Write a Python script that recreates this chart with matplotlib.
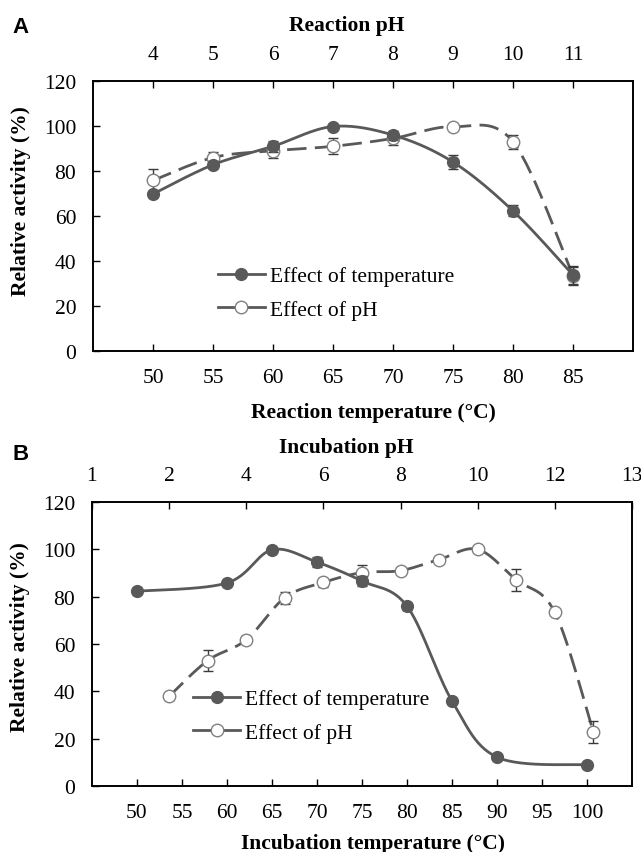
import numpy as np
import matplotlib
matplotlib.use("Agg")
from matplotlib import pyplot as plt
from matplotlib.lines import Line2D

plt.rcParams["font.family"] = ["Liberation Serif", "DejaVu Serif"]

GRIGIO = "#595959"
GRIGIO_CHIARO = "#808080"
GRIGIO_ERR = "#3a3a3a"
FONT = 15.5

# Pannello A: attivita in funzione di temperatura e pH di reazione
temp_a = [50, 55, 60, 65, 70, 75, 80, 85]
att_temp_a = [69.8, 82.8, 91.0, 99.8, 96.0, 84.0, 62.3, 33.8]
err_temp_a = [1.5, 1.5, 2.5, 0.5, 2.0, 3.0, 2.5, 4.0]
ph_a = [4, 5, 6, 7, 8, 9, 10, 11]
att_ph_a = [75.8, 86.0, 89.0, 91.0, 94.5, 99.7, 93.0, 33.5]
err_ph_a = [5.0, 2.5, 3.0, 3.5, 3.0, 0.5, 3.0, 4.0]

# Pannello B: attivita residua dopo incubazione
temp_b = [50, 60, 65, 70, 75, 80, 85, 90, 100]
att_temp_b = [82.3, 85.8, 99.8, 94.6, 86.6, 76.0, 36.0, 12.2, 8.9]
err_temp_b = [0.5, 0.5, 0.5, 2.0, 2.0, 1.5, 0.5, 1.0, 0.5]
ph_b = [2, 3, 4, 5, 6, 7, 8, 9, 10, 11, 12, 13]
att_ph_b = [37.9, 53.0, 61.8, 79.6, 86.0, 90.2, 91.0, 95.7, 100.0, 87.1, 73.4, 22.8]
err_ph_b = [1.5, 4.5, 1.5, 2.5, 2.0, 3.0, 1.0, 1.0, 0.5, 4.5, 1.0, 4.5]
tick_ph_b = [0, 2, 4, 6, 8, 10, 12, 14]
etichette_ph_b = ["1", "2", "4", "6", "8", "10", "12", "13"]


# Curva morbida stile Excel (Catmull-Rom) passante per i punti
def curva_morbida(x, y, passi=30):
    p = np.column_stack([x, y]).astype(float)
    p_est = np.vstack([p[0], p, p[-1]])
    t = np.linspace(0, 1, passi)[:, None]
    tratti = []
    for i in range(len(p) - 1):
        p0, p1, p2, p3 = p_est[i], p_est[i + 1], p_est[i + 2], p_est[i + 3]
        c1 = p1 + (p2 - p0) / 6
        c2 = p2 - (p3 - p1) / 6
        b = ((1 - t) ** 3) * p1 + 3 * ((1 - t) ** 2) * t * c1 + 3 * (1 - t) * t ** 2 * c2 + t ** 3 * p2
        tratti.append(b if i == 0 else b[1:])
    curva = np.vstack(tratti)
    return curva[:, 0], curva[:, 1]


def stile_asse(ax):
    ax.tick_params(direction="in", length=5, width=1, labelsize=FONT, pad=12)
    for s in ax.spines.values():
        s.set_linewidth(1.2)
        s.set_color("black")


def disegna_serie(ax, x, y, err, aperto, tratteggio):
    xs, ys = curva_morbida(x, y)
    if tratteggio:
        ax.plot(xs, ys, color=GRIGIO, lw=2, dashes=(7, 3), zorder=2)
    else:
        ax.plot(xs, ys, color=GRIGIO, lw=2, zorder=2)
    ax.errorbar(x, y, yerr=err, fmt="none", ecolor=GRIGIO_ERR, elinewidth=1, capsize=3.5,
                capthick=1, zorder=3)
    if aperto:
        ax.plot(x, y, "o", ms=9, mfc="white", mec=GRIGIO_CHIARO, mew=1, ls="none", zorder=4)
    else:
        ax.plot(x, y, "o", ms=8.5, mfc=GRIGIO, mec=GRIGIO, ls="none", zorder=4)


def pannello(fig, rect, temp, att_t, err_t, ph, att_p, err_p, xlim_t, xlim_p,
             tick_t, tick_p, etichette_p, xlabel, toplabel, lettera, pos_lettera,
             pos_leg, pos_xlab, pos_toplab, pos_ylab):
    ax = fig.add_axes(rect)
    ax2 = ax.twiny()
    disegna_serie(ax2, ph, att_p, err_p, True, True)
    disegna_serie(ax, temp, att_t, err_t, False, False)
    ax.set_zorder(ax2.get_zorder() + 1)
    ax.patch.set_visible(False)

    ax.set_xlim(*xlim_t)
    ax.set_ylim(0, 120)
    ax.set_yticks(range(0, 121, 20))
    ax.set_xticks(tick_t)
    ax2.set_xlim(*xlim_p)
    ax2.set_xticks(tick_p)
    ax2.set_xticklabels(etichette_p)
    stile_asse(ax)
    stile_asse(ax2)
    ax.tick_params(axis="x", top=False)
    ax.tick_params(axis="y", right=False)

    ax.set_xlabel(xlabel, fontsize=FONT, fontweight="bold")
    ax.set_ylabel("Relative activity (%)", fontsize=FONT, fontweight="bold")
    ax2.set_xlabel(toplabel, fontsize=FONT, fontweight="bold")
    ax.xaxis.set_label_coords(*pos_xlab)
    ax2.xaxis.set_label_coords(*pos_toplab)
    ax.yaxis.set_label_coords(*pos_ylab)

    maniglie = [
        Line2D([], [], color=GRIGIO, lw=2, marker="o", ms=8.5, mfc=GRIGIO, mec=GRIGIO),
        Line2D([], [], color=GRIGIO, lw=2, marker="o", ms=9, mfc="white", mec=GRIGIO_CHIARO),
    ]
    ax.legend(maniglie, ["Effect of temperature", "Effect of pH"], loc="center left",
              bbox_to_anchor=pos_leg, frameon=False, fontsize=FONT, handlelength=2.2,
              handletextpad=0.23, labelspacing=0.62, borderaxespad=0, borderpad=0)
    fig.text(pos_lettera[0], pos_lettera[1], lettera, fontsize=16, fontweight="bold",
             family=["Liberation Sans", "DejaVu Sans"], va="center", ha="left")
    return ax


fig = plt.figure(figsize=(6.41, 8.53), dpi=100)

pannello(fig, [0.1451, 0.5873, 0.8424, 0.3165], temp_a, att_temp_a, err_temp_a,
         ph_a, att_ph_a, err_ph_a, (45, 90), (3, 12), temp_a, ph_a,
         [str(v) for v in ph_a], "Reaction temperature (°C)", "Reaction pH", "A",
         (0.02, 0.968), (0.231, 0.215), (0.52, -0.19), (0.47, 1.19), (-0.115, 0.56))

pannello(fig, [0.1435, 0.0774, 0.8424, 0.3329], temp_b, att_temp_b, err_temp_b,
         ph_b, att_ph_b, err_ph_b, (45, 105), (0, 14), list(range(50, 101, 5)), tick_ph_b,
         etichette_ph_b, "Incubation temperature (°C)", "Incubation pH", "B",
         (0.02, 0.4666), (0.187, 0.246), (0.52, -0.165), (0.47, 1.176), (-0.115, 0.528))

fig.savefig("out.png", dpi=100)
